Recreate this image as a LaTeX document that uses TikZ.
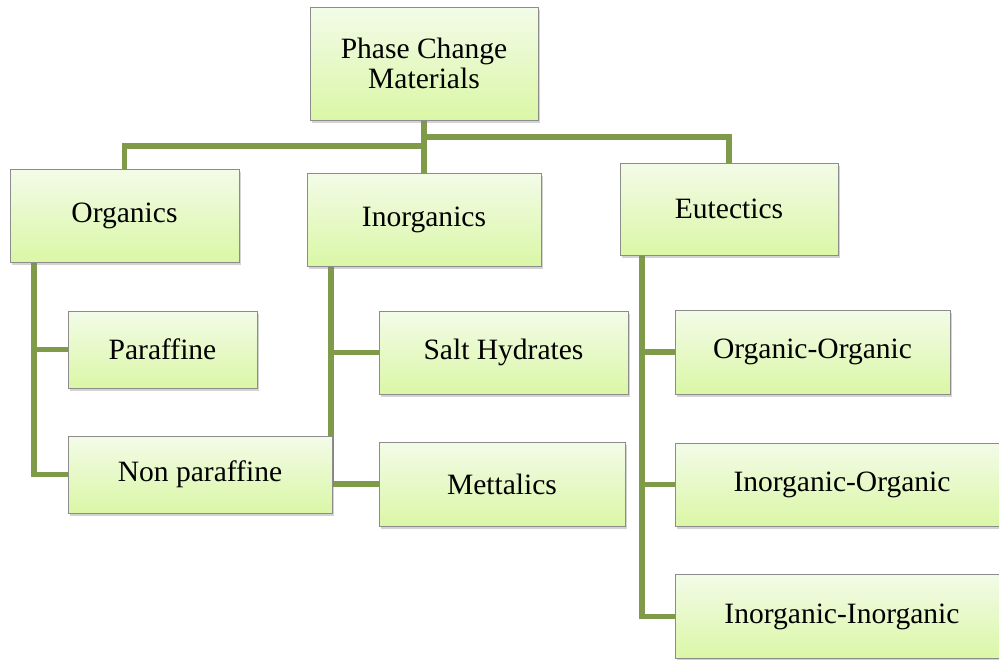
\documentclass[tikz,border=0pt]{standalone}
\usepackage{fontspec}
\setmainfont{Liberation Serif}
\usetikzlibrary{positioning,calc,shadows,backgrounds}
\definecolor{linkgreen}{HTML}{7F9A48}
\definecolor{boxtop}{HTML}{F3FBE8}
\definecolor{boxbot}{HTML}{DAF7A6}
\definecolor{boxline}{HTML}{8C8C8C}
\tikzset{
    block/.style = {draw=boxline, line width=0.5pt, rectangle,
        top color=boxtop, bottom color=boxbot,
        drop shadow={shadow xshift=0.06cm, shadow yshift=-0.07cm, opacity=0.35},
        font=\fontsize{21}{21}\selectfont, align=center, inner sep=0pt},
    link/.style = {draw=linkgreen, line width=4.2pt}
}

\begin{document}
\begin{tikzpicture}[x=0.025cm, y=-0.025cm]
    \useasboundingbox (0,0) rectangle (999,659);
    % top level
    \node [block, minimum width=228*0.025cm, minimum height=113*0.025cm] (pcm) at (424,63.5) {Phase Change\\Materials};
    \node [block, minimum width=229*0.025cm, minimum height=93*0.025cm] (org) at (124.5,215.5) {Organics};
    \node [block, minimum width=234*0.025cm, minimum height=93*0.025cm] (inorg) at (424,219.5) {Inorganics};
    \node [block, minimum width=218*0.025cm, minimum height=92*0.025cm] (eut) at (729,209) {Eutectics};
    % organics
    \node [block, minimum width=189*0.025cm, minimum height=77*0.025cm] (par) at (162.5,349.5) {Paraffine};
    \node [block, minimum width=264*0.025cm, minimum height=77*0.025cm] (nonpar) at (200,474.5) {Non paraffine};
    % inorganics
    \node [block, minimum width=249*0.025cm, minimum height=83*0.025cm] (salt) at (503.5,352.5) {Salt Hydrates};
    \node [block, minimum width=246*0.025cm, minimum height=84*0.025cm] (met) at (502,484) {Mettalics};
    % eutectics
    \node [block, minimum width=275*0.025cm, minimum height=84*0.025cm] (oo) at (812.5,352) {Organic-Organic};
    \node [block, minimum width=334*0.025cm, minimum height=83*0.025cm] (io) at (842,484.5) {Inorganic-Organic};
    \node [block, minimum width=334*0.025cm, minimum height=84*0.025cm] (ii) at (842,616.5) {Inorganic-Inorganic};
    \begin{scope}[on background layer]
        \coordinate (splitL) at ($(pcm.south)+(0,26)$);
        \coordinate (splitR) at ($(pcm.south)+(0,17)$);
        \draw [link] (pcm.south) -- (inorg.north);
        \draw [link] (splitL) -| (org.north);
        \draw [link] (splitR) -| (eut.north);
        \coordinate (orgtrunk) at ($(org.south west)+(24,0)$);
        \coordinate (inorgtrunk) at ($(inorg.south west)+(24,0)$);
        \coordinate (euttrunk) at ($(eut.south west)+(22,0)$);
        \foreach \child in {par,nonpar}
            \draw [link] (orgtrunk) |- (\child.west);
        \foreach \child in {salt,met}
            \draw [link] (inorgtrunk) |- (\child.west);
        \foreach \child in {oo,io,ii}
            \draw [link] (euttrunk) |- (\child.west);
    \end{scope}
\end{tikzpicture}
\end{document}
